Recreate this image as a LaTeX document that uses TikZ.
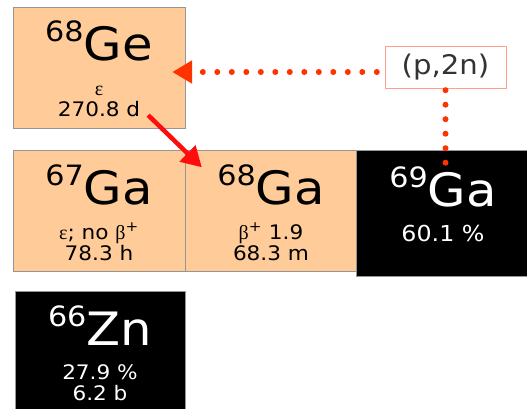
\documentclass[tikz,border=0pt]{standalone}
\usepackage{fontspec}
\setmainfont{DejaVu Sans}[FakeStretch=1.08]
\newfontfamily\greekfont{Liberation Serif}
\usetikzlibrary{arrows.meta,calc}
\definecolor{peach}{RGB}{255,204,153}
\definecolor{edgegray}{RGB}{150,150,150}
\definecolor{decayred}{RGB}{255,12,12}
\definecolor{reacred}{RGB}{255,51,0}
\definecolor{reacedge}{RGB}{255,160,140}
% nuclide box text: [size of lower lines] mass, symbol, two lines below
\newcommand{\nucl}[5][20]{\parbox[c][121pt][t]{170pt}{\centering
  \rule{0pt}{54pt}{\fontsize{46}{46}\selectfont\raisebox{19pt}{\fontsize{28}{28}\selectfont #2}#3}\par
  \fontsize{#1}{21}\selectfont\rule{0pt}{33pt}#4\par #5\par}}
\newcommand{\gr}[1]{{\greekfont #1}}

\begin{document}
\begin{tikzpicture}[x=1pt,y=-1pt,
    nuclide/.style={draw=edgegray,fill=peach,inner sep=0pt,
      minimum width=172pt,minimum height=121pt},
    stable/.style={nuclide,fill=black,text=white},
    reacbox/.style={draw=reacedge,fill=white,text=black!80,inner sep=0pt,
      minimum width=121pt,minimum height=42pt,font=\fontsize{27}{27}\selectfont},
    decay/.style={decayred,line width=4.5pt,
      -{Triangle[length=20pt,width=22pt]}},
    reaction/.style={reacred,line width=6pt,line cap=round,
      dash pattern=on 0pt off 14.5pt}]
  \useasboundingbox (0,0) rectangle (527,409);
  % --- chart cells ---
  \node[nuclide] (ge68) at (99,67.5) {\nucl{68}{Ge}{\gr{ε}}{270.8 d}};
  \node[nuclide] (ga67) at (99,211) {\nucl{67}{Ga}{\gr{ε}; no \gr{β}\textsuperscript{+}}{78.3 h}};
  \node[nuclide] (ga68) at (271,211) {\nucl{68}{Ga}{\gr{β}\textsuperscript{+} 1.9}{68.3 m}};
  \node[stable,minimum width=174pt,minimum height=126pt,yshift=-2pt] (ga69) at (443,211) {\nucl[22]{69}{Ga}{60.1 \%}{}};
  \node[stable,minimum width=170pt] (zn66) at (100,351.5) {\nucl{66}{Zn}{27.9 \%}{6.2 b}};
  % --- reaction label ---
  \node[reacbox] (pn) at (445.5,67) {(p,2n)};
  % --- decay 68Ge -> 68Ga ---
  \coordinate (decay start) at ($(ge68.south east)+(-37,-13)$);
  \coordinate (decay end) at ($(ga68.north west)+(17,17)$);
  \draw[decay] (decay start) -- (decay end);
  % --- production route ---
  \coordinate (pn in) at ($(pn.west)+(-8,5)$);
  \coordinate (ge tip) at ($(ge68.east)+(-13,4.5)$);
  \draw[reaction,-{Triangle[length=20pt,width=22pt]}] (pn in) -- (ge tip);
  \coordinate (ga hit) at ($(pn.south |- ga69.north)+(0,13)$);
  \draw[reaction] ([yshift=-2pt]pn.south) -- (ga hit);
\end{tikzpicture}
\end{document}
